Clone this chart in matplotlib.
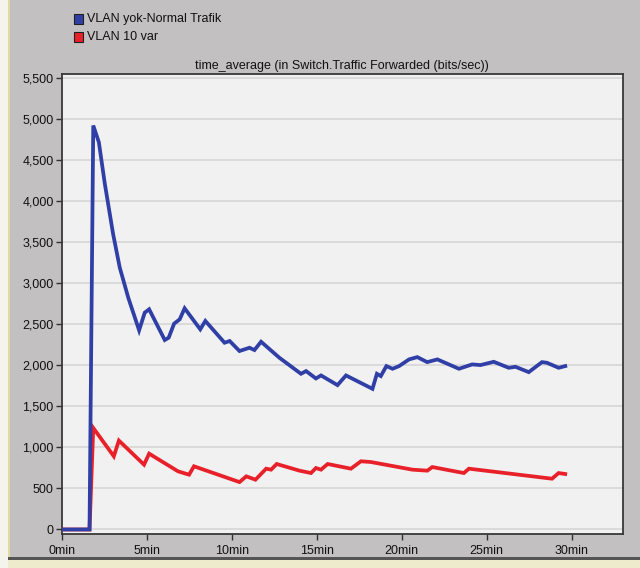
import numpy as np
import matplotlib
matplotlib.use("Agg")
import matplotlib.pyplot as plt
from matplotlib.patches import Rectangle
from matplotlib.ticker import FuncFormatter

plt.rcParams['font.family'] = ['Liberation Sans', 'DejaVu Sans']

# series (minutes, bits/sec)
series_names = ["VLAN yok-Normal Trafik", "VLAN 10 var"]
title = "time_average (in Switch.Traffic Forwarded (bits/sec))"

blue_t = [0, 1.62, 1.84, 2.17, 2.52, 3.01, 3.4, 3.9, 4.54, 4.87, 5.13, 6.05, 6.28,
          6.6, 6.93, 7.22, 8.14, 8.44, 9.57, 9.87, 10.45, 11.04, 11.33, 11.72, 12.8,
          14.07, 14.37, 14.95, 15.25, 16.22, 16.72, 18.28, 18.54, 18.77, 19.1, 19.46,
          19.85, 20.43, 20.92, 21.5, 22.1, 23.37, 24.15, 24.64, 25.42, 26.3, 26.7,
          27.48, 28.26, 28.55, 29.24, 29.63]
blue_v = [0, 0, 4917, 4713, 4209, 3595, 3188, 2822, 2424, 2639, 2680, 2306, 2334,
          2505, 2558, 2692, 2436, 2538, 2273, 2294, 2172, 2212, 2184, 2285, 2090,
          1895, 1928, 1838, 1875, 1757, 1875, 1712, 1895, 1867, 1989, 1956,
          1989, 2070, 2098, 2037, 2070, 1956, 2009, 2001, 2041, 1968, 1980,
          1915, 2037, 2029, 1968, 1989]

red_t = [0, 1.62, 1.84, 3.05, 3.35, 4.83, 5.13, 6.83, 7.48, 7.77, 10.45, 10.85,
         11.39, 12.02, 12.31, 12.64, 13.98, 14.66, 14.95, 15.25, 15.64, 17.01, 17.6,
         18.19, 20.63, 21.51, 21.8, 23.66, 23.96, 28.85, 29.24, 29.63]
red_v = [0, 0, 1236, 891, 1082, 789, 923, 708, 667, 769, 577, 647,
         606, 740, 728, 797, 716, 687, 748, 728, 797, 740, 830,
         821, 728, 716, 760, 687, 740, 618, 687, 675]

x_ticks = [0, 5, 10, 15, 20, 25, 30]
y_ticks = list(range(0, 5501, 500))

blue = "#2f3fa6"
red = "#e8202a"
bg = "#c2c0c0"

fig = plt.figure(figsize=(6.4, 5.68), dpi=100, facecolor=bg)
ax = fig.add_axes([62 / 640, 1 - 534 / 568, (622.5 - 62) / 640, (534 - 74.3) / 568])
ax.set_facecolor("#f1f1f1")

for v in y_ticks:
    ax.axhline(v, color="#d6d6d6", lw=1.2, zorder=1)

ax.plot(red_t, red_v, color=red, lw=2.7, zorder=3, solid_joinstyle="miter")
ax.plot(blue_t, blue_v, color=blue, lw=2.7, zorder=4, solid_joinstyle="miter")

ax.set_xlim(0, 33)
ax.set_ylim(-55, 5540)
ax.set_xticks(x_ticks)
ax.set_xticklabels([f"{t}min" for t in x_ticks])
ax.set_yticks(y_ticks)
ax.yaxis.set_major_formatter(FuncFormatter(lambda v, p: f"{int(v):,}"))
ax.tick_params(direction="out", length=4, width=1, color="#303030",
               labelsize=9, labelcolor="#111111", pad=2)
ax.tick_params(axis="x", pad=4)
for s in ax.spines.values():
    s.set_color("#383838")
    s.set_linewidth(1.3)

ax.set_title(title, fontsize=9, color="#111111", pad=4)

# legend drawn as boxes + text at the top left
for i, (name, c) in enumerate(zip(series_names, [blue, red])):
    y = 1 - (19 + 18 * i) / 568
    fig.patches.append(Rectangle((74 / 640, y - 4.5 / 568), 9 / 640, 9 / 568,
                                 transform=fig.transFigure, facecolor=c,
                                 edgecolor="#202020", lw=0.8))
    fig.text(87 / 640, y, name, fontsize=9, va="center", ha="left", color="#111111")

# window frame bits
fig.patches.append(Rectangle((0, 0), 8 / 640, 1, transform=fig.transFigure,
                             facecolor="#f4f4ec", edgecolor="none"))
fig.patches.append(Rectangle((8 / 640, 0), 2 / 640, 1, transform=fig.transFigure,
                             facecolor="#e0dca0", edgecolor="none"))
fig.patches.append(Rectangle((8 / 640, 0), 1, 8 / 568, transform=fig.transFigure,
                             facecolor="#eeeacc", edgecolor="none"))
fig.patches.append(Rectangle((8 / 640, 8 / 568), 1, 3 / 568, transform=fig.transFigure,
                             facecolor="#555555", edgecolor="none"))

fig.savefig("out.png", dpi=100, facecolor=bg)
